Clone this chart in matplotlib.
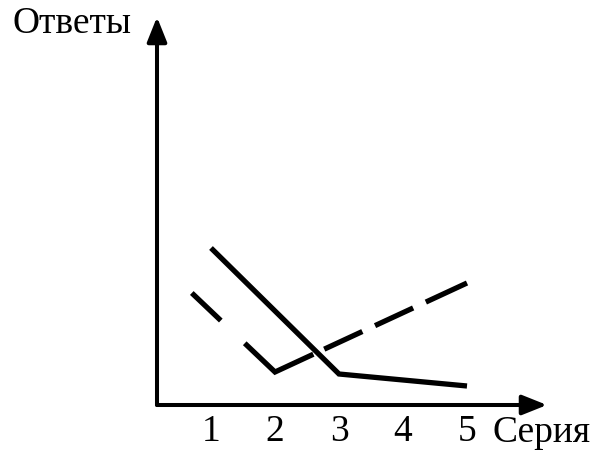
import matplotlib
matplotlib.use("Agg")
import matplotlib.pyplot as plt
from matplotlib.patches import FancyArrowPatch

plt.rcParams['font.family'] = ['Liberation Serif', 'DejaVu Serif']
plt.rcParams['lines.scale_dashes'] = False

# Data
series_ticks = [1, 2, 3, 4, 5]
tick_labels = ["1", "2", "3", "4", "5"]
solid_x = [1, 3, 5]
solid_y = [15.7, 3.1, 1.9]
dashed_x = [0.7, 2, 5]
dashed_y = [11.2, 3.3, 12.2]
x_label = "Серия"
y_label = "Ответы"

W, H = 600, 468
fig = plt.figure(figsize=(W / 100, H / 100), dpi=100)
ax_left, ax_right = 157, 547
ax_bottom, ax_top = 405, 17
ax = fig.add_axes([ax_left / W, (H - ax_bottom) / H,
                   (ax_right - ax_left) / W, (ax_bottom - ax_top) / H])
ax.set_xlim(1 - (211 - ax_left) / 64.0, 1 + (ax_right - 211) / 64.0)
ax.set_ylim(0, (ax_bottom - ax_top) / 10.0)
ax.axis('off')

# Axes with arrows
for start, end in [((0, 0), (1, 0)), ((0, 0), (0, 1))]:
    arr = FancyArrowPatch(start, end, transform=ax.transAxes,
                          arrowstyle='-|>,head_length=15,head_width=6',
                          mutation_scale=1, lw=2.9, color='black',
                          shrinkA=0, shrinkB=0, clip_on=False)
    ax.add_patch(arr)

# Lines
ax.plot(solid_x, solid_y, color='black', lw=3.8,
        solid_capstyle='butt', solid_joinstyle='miter')
px = 0.72
ax.plot(dashed_x, dashed_y, color='black', lw=3.8,
        dashes=[40 * px, 33 * px, 84 * px, 12 * px, 42 * px, 14 * px,
                42 * px, 14 * px, 60 * px, 20 * px],
        dash_capstyle='butt', dash_joinstyle='miter')

# Tick labels
for t, lab in zip(series_ticks, tick_labels):
    ax.text(t, -(432 - ax_bottom) / 10.0, lab, ha='center', va='center',
            fontsize=27, clip_on=False)

fig.text(493 / W, (H - 442) / H, x_label, ha='left', va='baseline', fontsize=27)
fig.text(13 / W, (H - 33) / H, y_label, ha='left', va='baseline', fontsize=27)

fig.savefig("out.png", dpi=100)
